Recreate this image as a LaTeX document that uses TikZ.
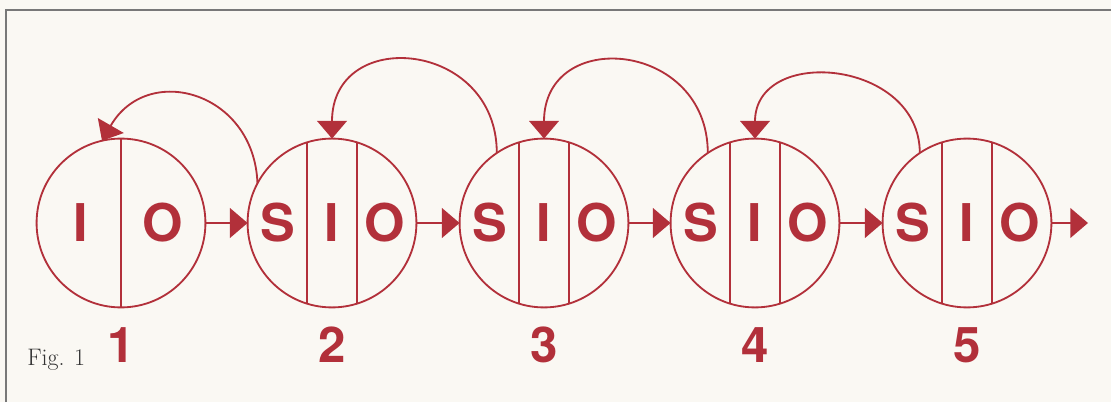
\documentclass[tikz,border=0pt]{standalone}
\usepackage{fontspec}
\newfontfamily\heros{TeX Gyre Heros}
\usepackage{tikz}
\usetikzlibrary{arrows.meta}
\definecolor{inkred}{RGB}{178,48,58}
\definecolor{paper}{RGB}{250,248,243}
\definecolor{framegray}{RGB}{120,120,120}

\tikzset{
  stage/.style={circle, draw=inkred, line width=1.3pt, minimum size=4.22cm, inner sep=0pt, outer sep=0pt},
  divider/.style={draw=inkred, line width=1.25pt},
  letter/.style={text=inkred, font=\heros\bfseries\fontsize{37}{40}\selectfont, inner sep=0pt},
  num/.style={text=inkred, font=\heros\bfseries\fontsize{35}{40}\selectfont, inner sep=0pt},
  flow/.style={draw=inkred, line width=1.3pt, -{Triangle[length=0.44cm,width=0.74cm]}},
}

\begin{document}
\begin{tikzpicture}[x=0.025cm, y=0.025cm]
\fill[paper] (0,0) rectangle (1111,402);
\useasboundingbox (0,0) rectangle (1111,402);
% frame
\draw[framegray, line width=1.2pt] (6,0) -- (6,392) -- (1111,392);

% stage 1
\node[stage] (c1) at (121,179) {};
\draw[divider] (c1.north) -- (c1.south);
\node[letter] (i1) at (81,179) {I};
\node[letter] (o1) at (163,179) {O};

% stages 2 to 5
\foreach \k/\x in {2/332,3/544,4/755,5/967} {
  \node[stage] (c\k) at (\x,179) {};
  \draw[divider] (c\k.107) -- (c\k.253) (c\k.73) -- (c\k.287);
  \node[letter] (s\k) at (\x-54,179) {S};
  \node[letter] (i\k) at (\x,179) {I};
  \node[letter] (o\k) at (\x+53,179) {O};
}

% numbers
\foreach \k/\x in {1/121,2/332,3/544,4/755,5/967}
  \node[num] (n\k) at (\x,57) {\k};

% forward arrows
\coordinate (out) at (1088,179);
\draw[flow] (c1.east) -- (c2.west);
\draw[flow] (c2.east) -- (c3.west);
\draw[flow] (c3.east) -- (c4.west);
\draw[flow] (c4.east) -- (c5.west);
\draw[flow] (c5.east) -- (out);

% back arrows
\draw[flow] (c2.152) to[out=92, in=60, looseness=1.45] (c1.103);
\draw[flow] (c3.124) to[out=90, in=90, looseness=1.75] (c2.north);
\draw[flow] (c4.124) to[out=90, in=90, looseness=1.75] (c3.north);
\draw[flow] (c5.124) to[out=90, in=90, looseness=1.45] (c4.north);

\node[anchor=base west, inner sep=0pt, text=black!80, font=\fontsize{17}{20}\selectfont] (fig) at (27,37) {Fig. 1};
\end{tikzpicture}
\end{document}
